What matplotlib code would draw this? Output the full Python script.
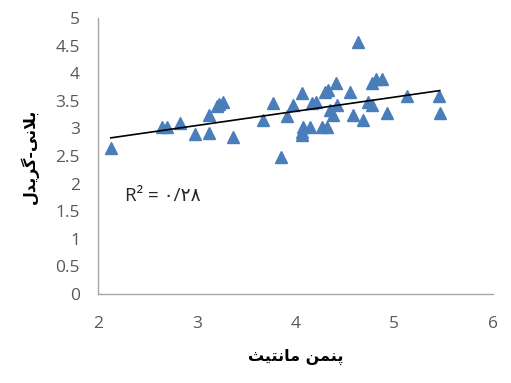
import numpy as np
import matplotlib
matplotlib.use("Agg")
import matplotlib.pyplot as plt

# Data (Penman-Monteith vs Blaney-Criddle)
pm = [2.13, 2.65, 2.70, 2.83, 2.98, 3.12, 3.12, 3.20, 3.23, 3.27, 3.37, 3.67, 3.77, 3.85,
      3.91, 3.97, 4.07, 4.07, 4.07, 4.08, 4.15, 4.17, 4.21, 4.27, 4.32, 4.30, 4.33, 4.35,
      4.38, 4.41, 4.42, 4.55, 4.58, 4.63, 4.68, 4.73, 4.77, 4.77, 4.82, 4.88, 4.93, 5.13,
      5.45, 5.46]
bc = [2.64, 3.03, 3.03, 3.10, 2.90, 2.91, 3.24, 3.40, 3.45, 3.48, 2.85, 3.16, 3.46, 2.48,
      3.23, 3.42, 3.64, 2.93, 2.88, 3.03, 3.03, 3.46, 3.48, 3.03, 3.03, 3.66, 3.70, 3.33,
      3.24, 3.82, 3.42, 3.66, 3.24, 4.57, 3.15, 3.48, 3.42, 3.82, 3.89, 3.89, 3.28, 3.59,
      3.59, 3.28]

x_ticks = [2, 3, 4, 5, 6]
y_ticks = [0, 0.5, 1, 1.5, 2, 2.5, 3, 3.5, 4, 4.5, 5]
y_ticklabels = ["0", "0.5", "1", "1.5", "2", "2.5", "3", "3.5", "4", "4.5", "5"]

# Persian labels, pre-shaped (presentation forms) in visual order
xlabel = "\uFE9A\uFBFF\uFE98\uFEE7\uFE8E\uFEE3 \uFEE6\uFEE4\uFEE8\uFB58"   # پنمن مانتیث
ylabel = "\uFEDD\uFEAA\uFBFE\uFEAE\uFB94-\uFBFD\uFEE7\uFEFC\uFE91"        # بلانی-گریدل
r2_text = "R\u00b2 = \u06F0/\u06F2\u06F8"

fig = plt.figure(figsize=(5.11, 3.83), dpi=100)
ax = fig.add_axes([0.1918, 0.2324, 0.7730, 0.7206])

ax.plot(pm, bc, linestyle="none", marker="^", markersize=9,
        color="#4A7EBB", markeredgecolor="#4A7EBB")

coef = np.polyfit(pm, bc, 1)
xl = np.array([min(pm), max(pm)])
ax.plot(xl, np.polyval(coef, xl), color="black", lw=1.2)

ax.set_xlim(2, 6)
ax.set_ylim(0, 5)
ax.set_xticks(x_ticks)
ax.set_xticklabels([str(v) for v in x_ticks])
ax.set_yticks(y_ticks)
ax.set_yticklabels(y_ticklabels)

for s in ["top", "right"]:
    ax.spines[s].set_visible(False)
for s in ["left", "bottom"]:
    ax.spines[s].set_color("#A6A6A6")
    ax.spines[s].set_linewidth(1.0)

ax.tick_params(axis="both", length=0, labelsize=12.5, labelcolor="#595959")
ax.tick_params(axis="y", pad=13)
ax.tick_params(axis="x", pad=16)
for lab in ax.get_xticklabels() + ax.get_yticklabels():
    lab.set_family(["Open Sans", "DejaVu Sans"])

ax.set_xlabel(xlabel, fontsize=11.5, fontweight="bold", family="DejaVu Sans", labelpad=12)
ax.set_ylabel(ylabel, fontsize=11.5, fontweight="bold", family="DejaVu Sans", labelpad=12)

ax.text(2.27, 1.78, r2_text, fontsize=13.5, va="center", ha="left",
        family=["Open Sans", "DejaVu Sans"], color="#262626")

fig.savefig("out.png", dpi=100)
